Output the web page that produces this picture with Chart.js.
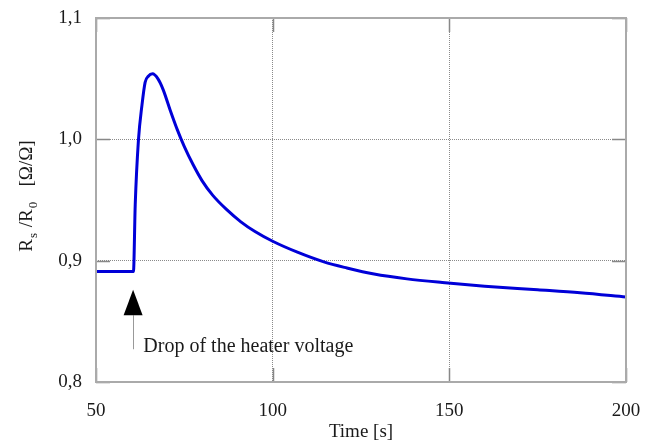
<!DOCTYPE html>
<html>
<head>
<meta charset="utf-8">
<script src="https://cdn.jsdelivr.net/npm/chart.js@4/dist/chart.umd.min.js"></script>
<style>
  body { margin: 0; background: #fff; }
</style>
</head>
<body>
<canvas id="sensorChart" width="655" height="443"></canvas>
<script>
// time axis [s] and normalised resistance Rs/R0
const times = [50, 55, 60.6, 61.1, 62.0, 63.0, 63.9, 64.8, 66.0, 67.5, 69, 71, 73, 75, 77.5,
  80, 83, 87, 91, 95, 100, 107, 114.5, 121, 128.7, 138, 148, 160, 175, 187, 200];
const ratio = [0.891, 0.891, 0.891, 0.946, 0.999, 1.028, 1.047, 1.052, 1.054, 1.050, 1.041, 1.024, 1.008, 0.994, 0.979,
  0.966, 0.954, 0.942, 0.932, 0.924, 0.916, 0.907, 0.899, 0.894, 0.889, 0.885, 0.882, 0.879, 0.876, 0.8735, 0.870];

const xTicks = [50, 100, 150, 200];
const yTicks = [0.8, 0.9, 1.0, 1.1];

// heater voltage drop marker (data coordinates)
const dropTime = 60.5;
const arrowTip = 0.876, arrowBase = 0.855, arrowEnd = 0.827;
const noteText = "Drop of the heater voltage";
const noteAt = { x: 63.4, y: 0.8245 };

const serif = "'Liberation Serif', 'Times New Roman', serif";

// keep the plot box where the layout padding puts it
function noLabelPadding(s) {
  s.paddingTop = 0; s.paddingBottom = 0; s.paddingLeft = 0; s.paddingRight = 0;
}

const framePlugin = {
  id: "frame",
  afterDatasetsDraw(chart) {
    const { ctx, chartArea: a, scales: { x, y } } = chart;
    ctx.save();
    // inner tick marks
    ctx.strokeStyle = "#888";
    ctx.lineWidth = 1.5;
    ctx.beginPath();
    xTicks.forEach(v => {
      const px = Math.round(x.getPixelForValue(v)) + 0.5;
      ctx.moveTo(px, a.top); ctx.lineTo(px, a.top + 14);
      ctx.moveTo(px, a.bottom); ctx.lineTo(px, a.bottom - 14);
    });
    yTicks.forEach(v => {
      const py = Math.round(y.getPixelForValue(v)) + 0.5;
      ctx.moveTo(a.left, py); ctx.lineTo(a.left + 14, py);
      ctx.moveTo(a.right, py); ctx.lineTo(a.right - 14, py);
    });
    ctx.stroke();
    // frame
    ctx.strokeStyle = "#aaa";
    ctx.lineWidth = 2;
    ctx.strokeRect(a.left, a.top, a.right - a.left, a.bottom - a.top);

    // arrow
    const ax = x.getPixelForValue(dropTime);
    const tip = y.getPixelForValue(arrowTip);
    const base = y.getPixelForValue(arrowBase);
    const end = y.getPixelForValue(arrowEnd);
    ctx.strokeStyle = "#999";
    ctx.lineWidth = 1;
    ctx.beginPath();
    ctx.moveTo(Math.round(ax) + 0.5, base);
    ctx.lineTo(Math.round(ax) + 0.5, end);
    ctx.stroke();
    ctx.fillStyle = "#000";
    ctx.beginPath();
    ctx.moveTo(ax, tip);
    ctx.lineTo(ax + 9.5, base);
    ctx.lineTo(ax - 9.5, base);
    ctx.closePath();
    ctx.fill();

    ctx.font = "20px " + serif;
    ctx.fillStyle = "#1a1a1a";
    ctx.textBaseline = "alphabetic";
    ctx.textAlign = "left";
    ctx.fillText(noteText, x.getPixelForValue(noteAt.x), y.getPixelForValue(noteAt.y));

    // y axis title with subscripts: Rs/R0 [Ω/Ω]
    const parts = [
      { t: "R", sub: false }, { t: "s", sub: true }, { t: " /R", sub: false },
      { t: "0", sub: true }, { t: "   [\u03A9/\u03A9]", sub: false }
    ];
    const fontFor = p => (p.sub ? "13px " : "19px ") + serif;
    let total = 0;
    parts.forEach(p => { ctx.font = fontFor(p); p.w = ctx.measureText(p.t).width + (p.sub ? 2 : 0); total += p.w; });
    ctx.translate(32, 196);
    ctx.rotate(-Math.PI / 2);
    let cx = -total / 2;
    parts.forEach(p => {
      ctx.font = fontFor(p);
      ctx.fillText(p.t, cx + (p.sub ? 1 : 0), p.sub ? 5 : 0);
      cx += p.w;
    });
    ctx.restore();
  }
};

new Chart(document.getElementById("sensorChart"), {
  type: "line",
  data: {
    datasets: [{
      data: times.map((t, i) => ({ x: t, y: ratio[i] })),
      borderColor: "#0000d8",
      borderWidth: 3,
      pointRadius: 0,
      cubicInterpolationMode: "monotone",
      fill: false
    }]
  },
  options: {
    responsive: false,
    animation: false,
    layout: { padding: { top: 18, right: 29, left: 0, bottom: 0 } },
    plugins: { legend: { display: false }, tooltip: { enabled: false } },
    scales: {
      x: {
        type: "linear",
        min: 50,
        max: 200,
        afterBuildTicks: s => { s.ticks = xTicks.map(v => ({ value: v })); },
        afterFit: s => { s.height = 61; noLabelPadding(s); },
        border: { display: false, dash: [1, 1] },
        grid: { color: "#8a8a8a", lineWidth: 1, drawTicks: false },
        ticks: { padding: 18, color: "#1a1a1a", font: { family: serif, size: 19 } },
        title: {
          display: true,
          text: "Time [s]",
          color: "#1a1a1a",
          padding: 0,
          font: { family: serif, size: 19 }
        }
      },
      y: {
        min: 0.8,
        max: 1.1,
        afterBuildTicks: s => { s.ticks = yTicks.map(v => ({ value: v })); },
        afterFit: s => { s.width = 96; noLabelPadding(s); },
        border: { display: false, dash: [1, 1] },
        grid: { color: "#8a8a8a", lineWidth: 1, drawTicks: false },
        ticks: {
          padding: 14,
          color: "#1a1a1a",
          font: { family: serif, size: 19 },
          callback: v => v.toFixed(1).replace(".", ",")
        }
      }
    }
  },
  plugins: [framePlugin]
});
</script>
</body>
</html>
